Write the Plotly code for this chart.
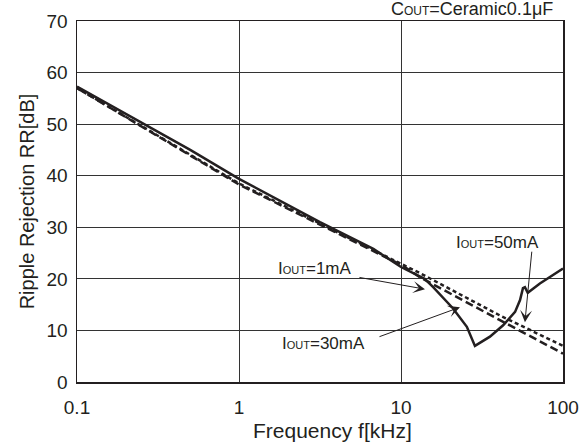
import plotly.graph_objects as go

# ---- data ----
# solid curve (with resonance dip)
solid_freq = [0.1, 0.2, 0.5, 1, 2, 3.16, 6.75, 10, 14, 15.8, 20.9, 25.5, 28.6,
              35.4, 42.7, 50.6, 54.3, 55.7, 56.6, 58.2, 59.6, 60.6, 72, 83.2, 100]
solid_rr = [57.3, 52.0, 45.0, 39.4, 34.4, 31.0, 25.8, 22.3, 20.0, 18.4, 14.3, 10.7, 7.0,
            8.8, 11.0, 13.6, 15.9, 17.5, 18.2, 18.4, 17.8, 17.3, 19.1, 20.4, 22.0]

# long-dash curve
dash_freq = [0.1, 1, 10.2, 13.1, 40.8, 100]
dash_rr = [57.0, 38.3, 22.6, 20.3, 12.0, 5.5]

# short-dash (dotted) curve
dot_freq = [0.1, 1, 13.1, 40.8, 100]
dot_rr = [57.0, 38.5, 21.1, 12.9, 7.0]

x_tick_vals = [0.1, 1, 10, 100]
x_tick_text = ["0.1", "1", "10", "100"]
y_tick_vals = [0, 10, 20, 30, 40, 50, 60, 70]

INK = "#231f20"
FONT = "Liberation Sans, Arial, sans-serif"

fig = go.Figure()
fig.add_trace(go.Scatter(x=dot_freq, y=dot_rr, mode="lines",
                         line=dict(color=INK, width=2.5, dash="4px,3px"), name="dot"))
fig.add_trace(go.Scatter(x=dash_freq, y=dash_rr, mode="lines",
                         line=dict(color=INK, width=2.5, dash="8px,4px"), name="dash"))
fig.add_trace(go.Scatter(x=solid_freq, y=solid_rr, mode="lines",
                         line=dict(color=INK, width=2.5), name="solid"))

small = "<span style='font-size:11px'>OUT</span>"

annotations = [
    # condition label
    dict(xref="paper", yref="paper", x=0.9835, y=1.033, xanchor="right", yanchor="middle",
         text="C<span style='font-size:12px'>OUT</span>=Ceramic0.1μF", showarrow=False,
         font=dict(size=18, color=INK, family=FONT)),
    # x axis title (sits slightly right of centre in the reference)
    dict(xref="paper", yref="paper", x=0.5267, y=-0.1357, xanchor="center", yanchor="middle",
         text="Frequency f[kHz]", showarrow=False,
         font=dict(size=21, color=INK, family=FONT)),
    # curve labels
    dict(x=0.469, y=22.1, text="I" + small + "=1mA", showarrow=False,
         font=dict(size=17, color=INK, family=FONT)),
    dict(x=0.520, y=7.4, text="I" + small + "=30mA", showarrow=False,
         font=dict(size=17, color=INK, family=FONT)),
    dict(x=1.596, y=27.1, text="I" + small + "=50mA", showarrow=False,
         font=dict(size=17, color=INK, family=FONT)),
    # arrows
    dict(x=1.148, y=18.0, ax=-67, ay=-12, text="", showarrow=True,
         arrowhead=3, arrowsize=2, arrowwidth=1, arrowcolor=INK),
    dict(x=1.364, y=14.5, ax=-82, ay=30, text="", showarrow=True,
         arrowhead=3, arrowsize=2, arrowwidth=1, arrowcolor=INK),
    dict(x=1.765, y=11.6, ax=7, ay=-72, text="", showarrow=True,
         arrowhead=3, arrowsize=2, arrowwidth=1, arrowcolor=INK),
]

fig.update_layout(
    width=582, height=445,
    margin=dict(l=77, r=19, t=21, b=63),
    paper_bgcolor="white", plot_bgcolor="white",
    showlegend=False,
    hovermode=False,
    font=dict(family=FONT, color=INK, size=19),
    annotations=annotations,
)
fig.update_xaxes(
    type="log", range=[-1, 2], automargin=False,
    tickvals=x_tick_vals, ticktext=x_tick_text,
    showgrid=True, gridcolor="#333333", gridwidth=1,
    showline=True, mirror=True, linecolor=INK, linewidth=1.5,
    ticks="", zeroline=False, ticklabelstandoff=8,
    tickfont=dict(size=19, color=INK),
)
fig.update_yaxes(
    range=[0, 70], tickvals=y_tick_vals, automargin=False,
    showgrid=True, gridcolor="#333333", gridwidth=1,
    showline=True, mirror=True, linecolor=INK, linewidth=1.5,
    ticks="", zeroline=False, ticklabelstandoff=4,
    tickfont=dict(size=19, color=INK),
    title=dict(text="Ripple Rejection RR[dB]", font=dict(size=20, color=INK), standoff=6),
)

# remove the browser's default 8px body margin so the figure fills the window
fig.write_html("out.html",
               config={"displayModeBar": False, "staticPlot": True},
               post_script="document.body.style.margin='0';document.body.style.overflow='hidden';")
